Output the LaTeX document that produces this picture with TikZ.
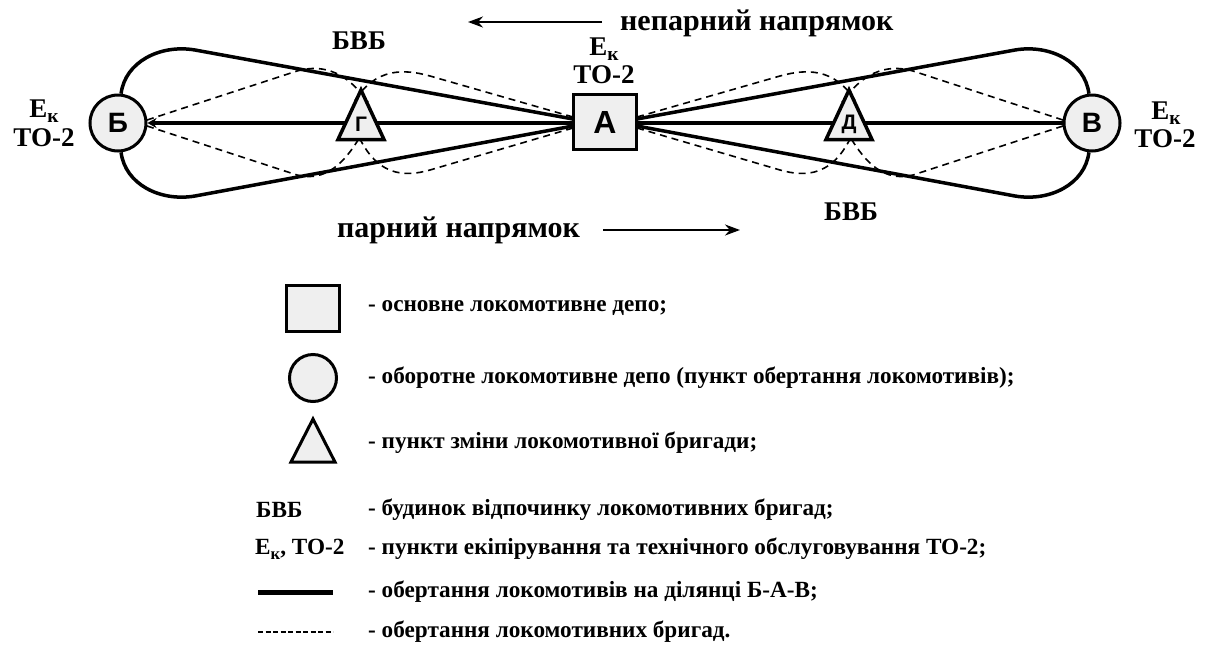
\documentclass[tikz,border=0pt]{standalone}
\usepackage{fontspec}
\setmainfont{Liberation Serif}
\newfontfamily\lsans{Liberation Sans}
\usetikzlibrary{arrows.meta,backgrounds}
\definecolor{nodefill}{RGB}{239,239,239}
\newcommand\Ek{Е\raisebox{-0.2em}{\scalebox{0.72}{к}}}
\begin{document}
\begin{tikzpicture}[x=1pt,y=-1pt,
  mainline/.style={line width=3.5pt},
  crew/.style={line width=1.6pt, dash pattern=on 7pt off 5pt},
  depot/.style={draw, line width=3pt, fill=nodefill, inner sep=0pt},
  letterbig/.style={font=\lsans\bfseries\fontsize{32pt}{32pt}\selectfont},
  lettermid/.style={font=\lsans\bfseries\fontsize{28pt}{28pt}\selectfont},
  lettersmall/.style={font=\lsans\bfseries\fontsize{21pt}{21pt}\selectfont},
  lbl/.style={font=\bfseries\fontsize{27pt}{25pt}\selectfont, inner sep=0pt},
  dirtext/.style={font=\bfseries\fontsize{30pt}{30pt}\selectfont, inner sep=0pt},
  legtext/.style={font=\bfseries\fontsize{23.2pt}{24pt}\selectfont, inner sep=0pt, anchor=west},
  trishape/.style={line width=3.5pt, fill=nodefill, line join=miter},
  dirarrow/.style={line width=2pt, -{Stealth[length=15pt,width=11pt]}}
]
\useasboundingbox (0,0) rectangle (1205,646);

% main nodes
\node[depot, minimum width=63pt, minimum height=55pt, letterbig] (A) at (605,122) {А};
\node[depot, circle, minimum size=56pt, lettermid] (B) at (118,123) {Б};
\node[depot, circle, minimum size=56pt, lettermid] (V) at (1092,123) {В};
\filldraw[trishape] (361,90) -- (338,139.5) -- (384,139.5) -- cycle;
\node[lettersmall] (G) at (361,124) {Г};
\filldraw[trishape] (849,90) -- (826,139.5) -- (872,139.5) -- cycle;
\node[lettersmall] (D) at (849,124) {Д};

\coordinate (Alt) at (573,119);
\coordinate (Alb) at (573,126);
\coordinate (Art) at (637,119);
\coordinate (Arb) at (637,126);
\coordinate (Ald) at (573,117);
\coordinate (Aldb) at (573,128);
\coordinate (Ard) at (637,117);
\coordinate (Ardb) at (637,128);
\coordinate (Bd) at (147,120);
\coordinate (Bdb) at (147,126);
\coordinate (Vd) at (1063,120);
\coordinate (Vdb) at (1063,126);

\begin{scope}[on background layer]
  % locomotive rotation (solid)
  \draw[mainline, -{Stealth[length=9pt,width=10pt]}] (V.west) -- (B.east);
  \draw[mainline] (B.84) .. controls (125,62) and (160,44) .. (195,50) -- (Alt);
  \draw[mainline] (B.-84) .. controls (125,184) and (160,202) .. (195,196) -- (Alb);
  \draw[mainline] (Art) -- (1015,50) .. controls (1050,44) and (1085,62) .. (V.96);
  \draw[mainline] (Arb) -- (1015,196) .. controls (1050,202) and (1085,184) .. (V.-96);
  % crew rotation (dashed)
  \draw[crew] (Bd) -- (297,71) .. controls (325,63) and (348,74) .. (368,102);
  \draw[crew] (Bdb) -- (297,175) .. controls (325,182) and (345,165) .. (365,128);
  \draw[crew] (Ald) -- (430,76) .. controls (405,69) and (375,67) .. (354,102);
  \draw[crew] (Aldb) -- (430,170) .. controls (405,177) and (375,178) .. (355,128);
  \draw[crew] (Vd) -- (913,71) .. controls (885,63) and (862,74) .. (842,102);
  \draw[crew] (Vdb) -- (913,175) .. controls (885,182) and (865,165) .. (845,128);
  \draw[crew] (Ard) -- (780,76) .. controls (805,69) and (835,67) .. (856,102);
  \draw[crew] (Ardb) -- (780,170) .. controls (805,177) and (835,178) .. (855,128);
\end{scope}

% labels
\node[lbl] (lBe) at (44,111) {\Ek};
\node[lbl] (lBt) at (44,138) {ТО-2};
\node[lbl] (lAe) at (604,49) {\Ek};
\node[lbl] (lAt) at (604,75) {ТО-2};
\node[lbl] (lVe) at (1166,113) {\Ek};
\node[lbl] (lVt) at (1165,139) {ТО-2};
\node[lbl] (bvb1) at (359,41) {БВБ};
\node[lbl] (bvb2) at (851,212) {БВБ};

% directions
\node[dirtext, anchor=base west] (odd) at (620,30) {непарний напрямок};
\coordinate (oddS) at (602,22);
\coordinate (oddE) at (468,22);
\draw[dirarrow] (oddS) -- (oddE);
\node[dirtext, anchor=base west] (even) at (337,237) {парний напрямок};
\coordinate (evenS) at (603,230);
\coordinate (evenE) at (740,230);
\draw[dirarrow] (evenS) -- (evenE);

% legend
\node[depot, minimum width=53pt, minimum height=46pt] (lsq) at (313,308.5) {};
\node[depot, circle, minimum size=47pt] (lci) at (313,378) {};
\filldraw[line width=3pt, fill=nodefill, line join=miter] (313,419) -- (291,462) -- (335,462) -- cycle;
\node[legtext] (t1) at (368,308) {- основне локомотивне депо;};
\node[legtext] (t2) at (368,378) {- оборотне локомотивне депо (пункт обертання локомотивів);};
\node[legtext] (t3) at (368,443) {- пункт зміни локомотивної бригади;};
\node[legtext] (k4) at (256,510) {БВБ};
\node[legtext] (t4) at (368,510) {- будинок відпочинку локомотивних бригад;};
\node[legtext] (k5) at (255,549) {\Ek, ТО-2};
\node[legtext] (t5) at (368,549) {- пункти екіпірування та технічного обслуговування ТО-2;};
\draw[line width=5pt] (258,592) -- (333,592);
\node[legtext] (t6) at (368,592) {- обертання локомотивів на ділянці Б-А-В;};
\draw[line width=1.8pt, dash pattern=on 5pt off 2.5pt] (258,632) -- (333,632);
\node[legtext] (t7) at (368,632) {- обертання локомотивних бригад.};
\end{tikzpicture}
\end{document}
